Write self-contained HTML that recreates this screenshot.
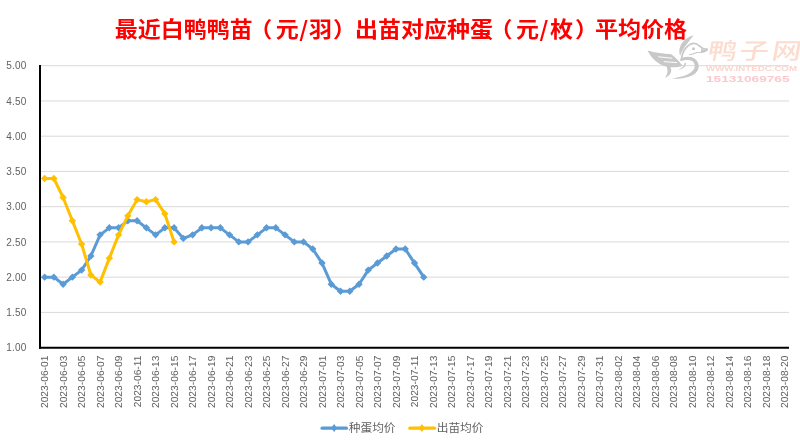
<!DOCTYPE html>
<html lang="zh-CN">
<head>
<meta charset="utf-8">
<title>最近白鸭鸭苗（元/羽）出苗对应种蛋（元/枚）平均价格</title>
<style>
html,body{margin:0;padding:0;background:#fff;}
body{width:800px;height:444px;overflow:hidden;}
svg{display:block;will-change:transform;}
.ax{font-family:"Liberation Sans","Noto Sans CJK SC",sans-serif;text-rendering:geometricPrecision;font-size:10.2px;letter-spacing:0.03px;fill:#616161;}
.ay{font-family:"Liberation Sans","Noto Sans CJK SC",sans-serif;font-size:10px;letter-spacing:0.25px;fill:#616161;}
.lg{font-family:"Liberation Sans","Noto Sans CJK SC",sans-serif;font-size:11.7px;fill:#616161;}
.ttl{font-family:"Noto Sans CJK SC","Liberation Sans",sans-serif;font-weight:bold;font-size:23px;fill:#FF0000;}
</style>
</head>
<body>
<svg width="800" height="444" viewBox="0 0 800 444">
<rect width="800" height="444" fill="#fff"/>

<g stroke="#D9D9D9" stroke-width="1" fill="none">
<line x1="40.0" y1="312.40" x2="789.0" y2="312.40"/>
<line x1="40.0" y1="277.16" x2="789.0" y2="277.16"/>
<line x1="40.0" y1="241.91" x2="789.0" y2="241.91"/>
<line x1="40.0" y1="206.67" x2="789.0" y2="206.67"/>
<line x1="40.0" y1="171.42" x2="789.0" y2="171.42"/>
<line x1="40.0" y1="136.18" x2="789.0" y2="136.18"/>
<line x1="40.0" y1="100.94" x2="789.0" y2="100.94"/>
<line x1="40.0" y1="65.69" x2="789.0" y2="65.69"/>
</g>
<g id="wm">
<g transform="translate(644 32) scale(0.1081)" fill="#C8C8C8" stroke="none">
<path d="M460 30C385 48 305 120 334 220C350 170 402 100 460 30Z"/>
<path d="M348 245C355 170 410 106 465 106C512 106 522 166 584 159" fill="none" stroke="#C8C8C8" stroke-width="16" stroke-linecap="round"/>
<path d="M586 167C560 192 520 188 495 190C470 195 450 207 420 210" fill="none" stroke="#C8C8C8" stroke-width="10" stroke-linecap="round"/>
<path d="M526 148C545 166 565 166 587 157L587 169C570 187 545 191 523 191C530 178 531 164 526 148Z"/>
<circle cx="458" cy="155" r="14"/>
<path d="M334 250C400 208 498 230 506 310C511 396 400 440 252 431C375 416 468 378 470 315C470 264 418 246 338 270Z"/>
<path d="M388 283C393 320 360 346 313 349C350 335 374 315 374 288Z"/>
<path d="M33 170C100 194 180 199 252 205C302 240 337 290 358 312C300 332 225 334 165 306C115 280 58 228 33 170Z"/>
<path d="M132 229C175 237 220 235 262 243" fill="none" stroke="#fff" stroke-width="9"/>
<path d="M183 274C225 281 265 277 305 283" fill="none" stroke="#fff" stroke-width="9"/>
<path d="M238 314C270 360 245 402 192 424C222 388 224 352 206 314Z"/>
</g>
<text font-family="'Noto Sans CJK SC','Liberation Sans',sans-serif" font-weight="500" fill="#FBDCCF" transform="translate(706.6 58.6) scale(1.3 1) skewX(-8)" font-size="22.5" x="0 24.4 49.3" y="0">鸭子网</text>
<text font-family="'Liberation Sans',sans-serif" font-size="7" font-weight="bold" fill="#F9D6CE" x="706" y="70.7" textLength="91" lengthAdjust="spacingAndGlyphs">WWW.INTEDC.COM</text>
<text font-family="'Liberation Sans',sans-serif" font-size="8.6" font-weight="bold" fill="#FAC9CD" x="706" y="81.9" textLength="83.5" lengthAdjust="spacingAndGlyphs">15131069765</text>
</g>

<text class="ttl" transform="translate(0 29.3) scale(1 0.93)" x="114.70 137.70 160.70 183.70 206.70 229.70 249.20 275.70 299.30 308.90 332.90 354.90 377.90 400.90 423.90 446.90 469.90 489.40 515.90 539.50 549.90 575.10 595.10 618.10 641.10 664.10" y="8.1">最近白鸭鸭苗（元/羽）出苗对应种蛋（元/枚）平均价格</text>
<g class="ay" text-anchor="end">
<text x="26.6" y="351.45">1.00</text>
<text x="26.6" y="316.20">1.50</text>
<text x="26.6" y="280.96">2.00</text>
<text x="26.6" y="245.72">2.50</text>
<text x="26.6" y="210.47">3.00</text>
<text x="26.6" y="175.22">3.50</text>
<text x="26.6" y="139.98">4.00</text>
<text x="26.6" y="104.73">4.50</text>
<text x="26.6" y="69.49">5.00</text>
</g>
<polyline points="44.62,277.16 53.87,277.16 63.12,284.21 72.36,277.16 81.61,270.11 90.86,256.01 100.10,234.87 109.35,227.82 118.60,227.82 127.85,220.77 137.09,220.77 146.34,227.82 155.59,234.87 164.83,227.82 174.08,227.82 183.33,238.39 192.57,234.87 201.82,227.82 211.07,227.82 220.31,227.82 229.56,234.87 238.81,241.91 248.06,241.91 257.30,234.87 266.55,227.82 275.80,227.82 285.04,234.87 294.29,241.91 303.54,241.91 312.78,248.96 322.03,263.06 331.28,284.21 340.52,291.26 349.77,291.26 359.02,284.21 368.27,270.11 377.51,263.06 386.76,256.01 396.01,248.96 405.25,248.96 414.50,263.06 423.75,277.16" fill="none" stroke="#5B9BD5" stroke-width="3" stroke-linejoin="round" stroke-linecap="round"/><path d="M40.92 277.16L44.62 273.46L48.32 277.16L44.62 280.86Z" fill="#5B9BD5"/><path d="M50.17 277.16L53.87 273.46L57.57 277.16L53.87 280.86Z" fill="#5B9BD5"/><path d="M59.42 284.21L63.12 280.51L66.82 284.21L63.12 287.91Z" fill="#5B9BD5"/><path d="M68.66 277.16L72.36 273.46L76.06 277.16L72.36 280.86Z" fill="#5B9BD5"/><path d="M77.91 270.11L81.61 266.41L85.31 270.11L81.61 273.81Z" fill="#5B9BD5"/><path d="M87.16 256.01L90.86 252.31L94.56 256.01L90.86 259.71Z" fill="#5B9BD5"/><path d="M96.40 234.87L100.10 231.17L103.80 234.87L100.10 238.57Z" fill="#5B9BD5"/><path d="M105.65 227.82L109.35 224.12L113.05 227.82L109.35 231.52Z" fill="#5B9BD5"/><path d="M114.90 227.82L118.60 224.12L122.30 227.82L118.60 231.52Z" fill="#5B9BD5"/><path d="M124.15 220.77L127.85 217.07L131.55 220.77L127.85 224.47Z" fill="#5B9BD5"/><path d="M133.39 220.77L137.09 217.07L140.79 220.77L137.09 224.47Z" fill="#5B9BD5"/><path d="M142.64 227.82L146.34 224.12L150.04 227.82L146.34 231.52Z" fill="#5B9BD5"/><path d="M151.89 234.87L155.59 231.17L159.29 234.87L155.59 238.57Z" fill="#5B9BD5"/><path d="M161.13 227.82L164.83 224.12L168.53 227.82L164.83 231.52Z" fill="#5B9BD5"/><path d="M170.38 227.82L174.08 224.12L177.78 227.82L174.08 231.52Z" fill="#5B9BD5"/><path d="M179.63 238.39L183.33 234.69L187.03 238.39L183.33 242.09Z" fill="#5B9BD5"/><path d="M188.87 234.87L192.57 231.17L196.27 234.87L192.57 238.57Z" fill="#5B9BD5"/><path d="M198.12 227.82L201.82 224.12L205.52 227.82L201.82 231.52Z" fill="#5B9BD5"/><path d="M207.37 227.82L211.07 224.12L214.77 227.82L211.07 231.52Z" fill="#5B9BD5"/><path d="M216.61 227.82L220.31 224.12L224.01 227.82L220.31 231.52Z" fill="#5B9BD5"/><path d="M225.86 234.87L229.56 231.17L233.26 234.87L229.56 238.57Z" fill="#5B9BD5"/><path d="M235.11 241.91L238.81 238.22L242.51 241.91L238.81 245.61Z" fill="#5B9BD5"/><path d="M244.36 241.91L248.06 238.22L251.76 241.91L248.06 245.61Z" fill="#5B9BD5"/><path d="M253.60 234.87L257.30 231.17L261.00 234.87L257.30 238.57Z" fill="#5B9BD5"/><path d="M262.85 227.82L266.55 224.12L270.25 227.82L266.55 231.52Z" fill="#5B9BD5"/><path d="M272.10 227.82L275.80 224.12L279.50 227.82L275.80 231.52Z" fill="#5B9BD5"/><path d="M281.34 234.87L285.04 231.17L288.74 234.87L285.04 238.57Z" fill="#5B9BD5"/><path d="M290.59 241.91L294.29 238.22L297.99 241.91L294.29 245.61Z" fill="#5B9BD5"/><path d="M299.84 241.91L303.54 238.22L307.24 241.91L303.54 245.61Z" fill="#5B9BD5"/><path d="M309.08 248.96L312.78 245.26L316.48 248.96L312.78 252.66Z" fill="#5B9BD5"/><path d="M318.33 263.06L322.03 259.36L325.73 263.06L322.03 266.76Z" fill="#5B9BD5"/><path d="M327.58 284.21L331.28 280.51L334.98 284.21L331.28 287.91Z" fill="#5B9BD5"/><path d="M336.82 291.26L340.52 287.56L344.22 291.26L340.52 294.96Z" fill="#5B9BD5"/><path d="M346.07 291.26L349.77 287.56L353.47 291.26L349.77 294.96Z" fill="#5B9BD5"/><path d="M355.32 284.21L359.02 280.51L362.72 284.21L359.02 287.91Z" fill="#5B9BD5"/><path d="M364.57 270.11L368.27 266.41L371.97 270.11L368.27 273.81Z" fill="#5B9BD5"/><path d="M373.81 263.06L377.51 259.36L381.21 263.06L377.51 266.76Z" fill="#5B9BD5"/><path d="M383.06 256.01L386.76 252.31L390.46 256.01L386.76 259.71Z" fill="#5B9BD5"/><path d="M392.31 248.96L396.01 245.26L399.71 248.96L396.01 252.66Z" fill="#5B9BD5"/><path d="M401.55 248.96L405.25 245.26L408.95 248.96L405.25 252.66Z" fill="#5B9BD5"/><path d="M410.80 263.06L414.50 259.36L418.20 263.06L414.50 266.76Z" fill="#5B9BD5"/><path d="M420.05 277.16L423.75 273.46L427.45 277.16L423.75 280.86Z" fill="#5B9BD5"/>
<polyline points="44.62,178.47 53.87,178.47 63.12,197.51 72.36,220.77 81.61,244.03 90.86,275.05 100.10,282.09 109.35,258.13 118.60,234.87 127.85,215.83 137.09,199.62 146.34,201.74 155.59,199.62 164.83,213.72 174.08,241.91" fill="none" stroke="#FFC000" stroke-width="3" stroke-linejoin="round" stroke-linecap="round"/><path d="M40.92 178.47L44.62 174.77L48.32 178.47L44.62 182.17Z" fill="#FFC000"/><path d="M50.17 178.47L53.87 174.77L57.57 178.47L53.87 182.17Z" fill="#FFC000"/><path d="M59.42 197.51L63.12 193.81L66.82 197.51L63.12 201.21Z" fill="#FFC000"/><path d="M68.66 220.77L72.36 217.07L76.06 220.77L72.36 224.47Z" fill="#FFC000"/><path d="M77.91 244.03L81.61 240.33L85.31 244.03L81.61 247.73Z" fill="#FFC000"/><path d="M87.16 275.05L90.86 271.35L94.56 275.05L90.86 278.75Z" fill="#FFC000"/><path d="M96.40 282.09L100.10 278.39L103.80 282.09L100.10 285.79Z" fill="#FFC000"/><path d="M105.65 258.13L109.35 254.43L113.05 258.13L109.35 261.83Z" fill="#FFC000"/><path d="M114.90 234.87L118.60 231.17L122.30 234.87L118.60 238.57Z" fill="#FFC000"/><path d="M124.15 215.83L127.85 212.13L131.55 215.83L127.85 219.53Z" fill="#FFC000"/><path d="M133.39 199.62L137.09 195.92L140.79 199.62L137.09 203.32Z" fill="#FFC000"/><path d="M142.64 201.74L146.34 198.04L150.04 201.74L146.34 205.44Z" fill="#FFC000"/><path d="M151.89 199.62L155.59 195.92L159.29 199.62L155.59 203.32Z" fill="#FFC000"/><path d="M161.13 213.72L164.83 210.02L168.53 213.72L164.83 217.42Z" fill="#FFC000"/><path d="M170.38 241.91L174.08 238.22L177.78 241.91L174.08 245.61Z" fill="#FFC000"/>
<g stroke="#000" stroke-width="2" fill="none"><line x1="40.0" y1="65" x2="40.0" y2="348.65"/><line x1="39.0" y1="347.65" x2="789.0" y2="347.65"/></g>
<g class="ax" text-anchor="end">
<text transform="translate(48.32 355.6) rotate(-90)">2023-06-01</text>
<text transform="translate(66.82 355.6) rotate(-90)">2023-06-03</text>
<text transform="translate(85.31 355.6) rotate(-90)">2023-06-05</text>
<text transform="translate(103.80 355.6) rotate(-90)">2023-06-07</text>
<text transform="translate(122.30 355.6) rotate(-90)">2023-06-09</text>
<text transform="translate(140.79 355.6) rotate(-90)">2023-06-11</text>
<text transform="translate(159.29 355.6) rotate(-90)">2023-06-13</text>
<text transform="translate(177.78 355.6) rotate(-90)">2023-06-15</text>
<text transform="translate(196.27 355.6) rotate(-90)">2023-06-17</text>
<text transform="translate(214.77 355.6) rotate(-90)">2023-06-19</text>
<text transform="translate(233.26 355.6) rotate(-90)">2023-06-21</text>
<text transform="translate(251.76 355.6) rotate(-90)">2023-06-23</text>
<text transform="translate(270.25 355.6) rotate(-90)">2023-06-25</text>
<text transform="translate(288.74 355.6) rotate(-90)">2023-06-27</text>
<text transform="translate(307.24 355.6) rotate(-90)">2023-06-29</text>
<text transform="translate(325.73 355.6) rotate(-90)">2023-07-01</text>
<text transform="translate(344.22 355.6) rotate(-90)">2023-07-03</text>
<text transform="translate(362.72 355.6) rotate(-90)">2023-07-05</text>
<text transform="translate(381.21 355.6) rotate(-90)">2023-07-07</text>
<text transform="translate(399.71 355.6) rotate(-90)">2023-07-09</text>
<text transform="translate(418.20 355.6) rotate(-90)">2023-07-11</text>
<text transform="translate(436.69 355.6) rotate(-90)">2023-07-13</text>
<text transform="translate(455.19 355.6) rotate(-90)">2023-07-15</text>
<text transform="translate(473.68 355.6) rotate(-90)">2023-07-17</text>
<text transform="translate(492.18 355.6) rotate(-90)">2023-07-19</text>
<text transform="translate(510.67 355.6) rotate(-90)">2023-07-21</text>
<text transform="translate(529.16 355.6) rotate(-90)">2023-07-23</text>
<text transform="translate(547.66 355.6) rotate(-90)">2023-07-25</text>
<text transform="translate(566.15 355.6) rotate(-90)">2023-07-27</text>
<text transform="translate(584.64 355.6) rotate(-90)">2023-07-29</text>
<text transform="translate(603.14 355.6) rotate(-90)">2023-07-31</text>
<text transform="translate(621.63 355.6) rotate(-90)">2023-08-02</text>
<text transform="translate(640.13 355.6) rotate(-90)">2023-08-04</text>
<text transform="translate(658.62 355.6) rotate(-90)">2023-08-06</text>
<text transform="translate(677.11 355.6) rotate(-90)">2023-08-08</text>
<text transform="translate(695.61 355.6) rotate(-90)">2023-08-10</text>
<text transform="translate(714.10 355.6) rotate(-90)">2023-08-12</text>
<text transform="translate(732.60 355.6) rotate(-90)">2023-08-14</text>
<text transform="translate(751.09 355.6) rotate(-90)">2023-08-16</text>
<text transform="translate(769.58 355.6) rotate(-90)">2023-08-18</text>
<text transform="translate(788.08 355.6) rotate(-90)">2023-08-20</text>
</g>
<line x1="322.1" y1="428.2" x2="346.4" y2="428.2" stroke="#5B9BD5" stroke-width="3.3" stroke-linecap="round"/><path d="M331.1 428.0L334.1 424.1L337.1 428.0L334.1 431.9Z" fill="#5B9BD5"/><text class="lg" x="348.8" y="432.2">种蛋均价</text>
<line x1="409.9" y1="428.2" x2="434.4" y2="428.2" stroke="#FFC000" stroke-width="3.3" stroke-linecap="round"/><path d="M418.9 428.0L421.9 424.1L424.9 428.0L421.9 431.9Z" fill="#FFC000"/><text class="lg" x="436.7" y="432.2">出苗均价</text>
</svg>
</body>
</html>
